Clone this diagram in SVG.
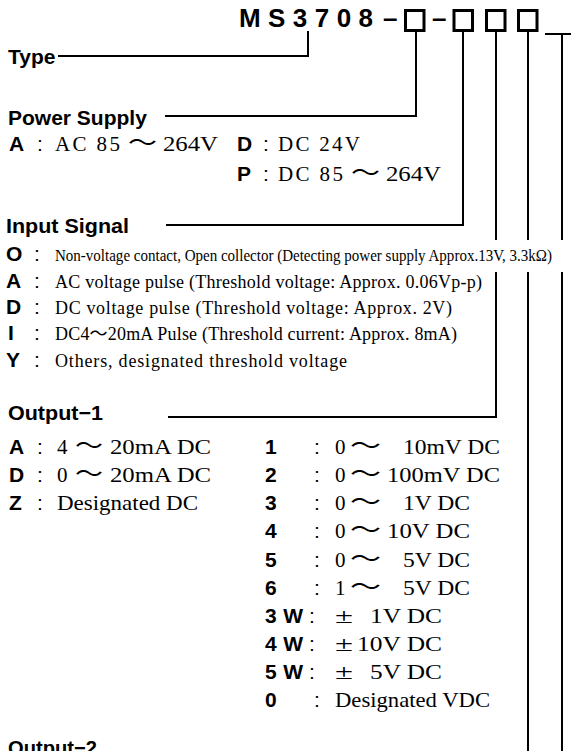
<svg xmlns="http://www.w3.org/2000/svg" width="571" height="751" viewBox="0 0 571 751">
<style>
.ttl{font:bold 26px "Liberation Sans",Arial,sans-serif;fill:#000}
.h{font:bold 21px "Liberation Sans",Arial,sans-serif;fill:#000}
.k{font:bold 21px "Liberation Sans",Arial,sans-serif;fill:#000}
.c{font:21px "Liberation Sans",Arial,sans-serif;fill:#000}
.v{font:21px "Liberation Serif","Times New Roman",serif;fill:#000}
.s{font:18px "Liberation Serif","Times New Roman","Noto Sans CJK JP",serif;fill:#000}
.w{font:24px "Noto Sans CJK JP",sans-serif;fill:#000}
.ln{stroke:#000;stroke-width:2;fill:none}
.bx{stroke:#000;stroke-width:3;fill:none}
</style>
<rect width="571" height="751" fill="#fff"/>
<g id="title">
<text class="ttl" x="239" y="27" textLength="134" lengthAdjust="spacing">MS3708</text>
<text class="ttl" x="383" y="27">–</text>
<text class="ttl" x="432" y="27">–</text>
<rect class="bx" x="405.5" y="10.5" width="18.5" height="20"/>
<rect class="bx" x="454" y="10.5" width="18.5" height="20"/>
<rect class="bx" x="486.5" y="10.5" width="18.5" height="20"/>
<rect class="bx" x="518.5" y="10.5" width="18.5" height="20"/>
</g>
<g id="type">
<text class="h" x="8" y="64">Type</text>
</g>
<g id="power">
<text class="h" x="8" y="125">Power Supply</text>
<text class="k" x="9" y="151">A</text><text class="c" x="37" y="151">:</text>
<text class="v" x="55" y="151" textLength="65" lengthAdjust="spacing">AC 85</text>
<text class="w" x="128" y="151" textLength="29" lengthAdjust="spacingAndGlyphs">～</text>
<text class="v" x="163" y="151" textLength="55" lengthAdjust="spacingAndGlyphs">264V</text>
<text class="k" x="237" y="151">D</text><text class="c" x="263" y="151">:</text>
<text class="v" x="278" y="151" textLength="82" lengthAdjust="spacing">DC 24V</text>
<text class="k" x="237" y="181">P</text><text class="c" x="263" y="181">:</text>
<text class="v" x="278" y="181" textLength="65" lengthAdjust="spacing">DC 85</text>
<text class="w" x="351" y="181" textLength="29" lengthAdjust="spacingAndGlyphs">～</text>
<text class="v" x="386" y="181" textLength="55" lengthAdjust="spacingAndGlyphs">264V</text>
</g>
<g id="input">
<text class="h" x="6" y="233" textLength="123" lengthAdjust="spacingAndGlyphs">Input Signal</text>
<text class="k" x="6" y="261">O</text><text class="c" x="34" y="261">:</text>
<text class="s" x="55" y="261" style="font-size:16px" textLength="497" lengthAdjust="spacingAndGlyphs">Non-voltage contact, Open collector (Detecting power supply Approx.13V, 3.3kΩ)</text>
<text class="k" x="6" y="288">A</text><text class="c" x="34" y="288">:</text>
<text class="s" x="55" y="288" textLength="427" lengthAdjust="spacing">AC voltage pulse (Threshold voltage: Approx. 0.06Vp-p)</text>
<text class="k" x="6" y="314">D</text><text class="c" x="34" y="314">:</text>
<text class="s" x="55" y="314" textLength="397" lengthAdjust="spacing">DC voltage pulse (Threshold voltage: Approx. 2V)</text>
<text class="k" x="8" y="340">I</text><text class="c" x="34" y="340">:</text>
<text class="s" x="55" y="340" textLength="402" lengthAdjust="spacing">DC4～20mA Pulse (Threshold current: Approx. 8mA)</text>
<text class="k" x="6" y="367">Y</text><text class="c" x="34" y="367">:</text>
<text class="s" x="55" y="367" textLength="292" lengthAdjust="spacing">Others, designated threshold voltage</text>
</g>
<g id="output1">
<text class="h" x="8" y="420" textLength="95" lengthAdjust="spacingAndGlyphs">Output−1</text>
<text class="k" x="9" y="454">A</text><text class="c" x="37" y="454">:</text>
<text class="v" x="57" y="454">4</text><text class="w" x="75" y="454" textLength="28" lengthAdjust="spacingAndGlyphs">～</text>
<text class="v" x="110" y="454" textLength="101" lengthAdjust="spacingAndGlyphs">20mA DC</text>
<text class="k" x="9" y="482">D</text><text class="c" x="37" y="482">:</text>
<text class="v" x="57" y="482">0</text><text class="w" x="75" y="482" textLength="28" lengthAdjust="spacingAndGlyphs">～</text>
<text class="v" x="110" y="482" textLength="101" lengthAdjust="spacingAndGlyphs">20mA DC</text>
<text class="k" x="9" y="510">Z</text><text class="c" x="37" y="510">:</text>
<text class="v" x="57" y="510" textLength="141" lengthAdjust="spacingAndGlyphs">Designated DC</text>

<text class="k" x="265" y="454">1</text><text class="c" x="314" y="454">:</text>
<text class="v" x="335" y="454">0</text><text class="w" x="350" y="454" textLength="31" lengthAdjust="spacingAndGlyphs">～</text>
<text class="v" x="403" y="454" textLength="97" lengthAdjust="spacingAndGlyphs">10mV DC</text>
<text class="k" x="265" y="482">2</text><text class="c" x="314" y="482">:</text>
<text class="v" x="335" y="482">0</text><text class="w" x="350" y="482" textLength="31" lengthAdjust="spacingAndGlyphs">～</text>
<text class="v" x="387" y="482" textLength="113" lengthAdjust="spacingAndGlyphs">100mV DC</text>
<text class="k" x="265" y="510">3</text><text class="c" x="314" y="510">:</text>
<text class="v" x="335" y="510">0</text><text class="w" x="350" y="510" textLength="31" lengthAdjust="spacingAndGlyphs">～</text>
<text class="v" x="403" y="510" textLength="67" lengthAdjust="spacingAndGlyphs">1V DC</text>
<text class="k" x="265" y="538">4</text><text class="c" x="314" y="538">:</text>
<text class="v" x="335" y="538">0</text><text class="w" x="350" y="538" textLength="31" lengthAdjust="spacingAndGlyphs">～</text>
<text class="v" x="387" y="538" textLength="83" lengthAdjust="spacingAndGlyphs">10V DC</text>
<text class="k" x="265" y="567">5</text><text class="c" x="314" y="567">:</text>
<text class="v" x="335" y="567">0</text><text class="w" x="350" y="567" textLength="31" lengthAdjust="spacingAndGlyphs">～</text>
<text class="v" x="403" y="567" textLength="67" lengthAdjust="spacingAndGlyphs">5V DC</text>
<text class="k" x="265" y="595">6</text><text class="c" x="314" y="595">:</text>
<text class="v" x="335" y="595">1</text><text class="w" x="350" y="595" textLength="31" lengthAdjust="spacingAndGlyphs">～</text>
<text class="v" x="403" y="595" textLength="67" lengthAdjust="spacingAndGlyphs">5V DC</text>
<text class="k" x="265" y="623" textLength="38" lengthAdjust="spacing">3W</text><text class="c" x="309" y="623">:</text>
<text class="v" x="335" y="623" textLength="18" lengthAdjust="spacingAndGlyphs">±</text>
<text class="v" x="370" y="623" textLength="72" lengthAdjust="spacingAndGlyphs">1V DC</text>
<text class="k" x="265" y="651" textLength="38" lengthAdjust="spacing">4W</text><text class="c" x="309" y="651">:</text>
<text class="v" x="335" y="651" textLength="18" lengthAdjust="spacingAndGlyphs">±</text>
<text class="v" x="357" y="651" textLength="85" lengthAdjust="spacingAndGlyphs">10V DC</text>
<text class="k" x="265" y="679" textLength="38" lengthAdjust="spacing">5W</text><text class="c" x="309" y="679">:</text>
<text class="v" x="335" y="679" textLength="18" lengthAdjust="spacingAndGlyphs">±</text>
<text class="v" x="370" y="679" textLength="72" lengthAdjust="spacingAndGlyphs">5V DC</text>
<text class="k" x="265" y="707">0</text><text class="c" x="314" y="707">:</text>
<text class="v" x="335" y="707" textLength="155" lengthAdjust="spacingAndGlyphs">Designated VDC</text>
</g>
<g id="output2">
<text class="h" x="8" y="755" textLength="89" lengthAdjust="spacingAndGlyphs">Output−2</text>
</g>
<g id="connectors">
<path class="ln" d="M58 56H308V31"/>
<path class="ln" d="M165 116H416V32"/>
<path class="ln" d="M166 225H463V32"/>
<path class="ln" d="M168 417H496V272M496 32V240"/>
<path class="ln" d="M528 32V240M528 272V751"/>
<path class="ln" d="M545 34H571M562 34V240M562 272V751"/>
</g>
</svg>
